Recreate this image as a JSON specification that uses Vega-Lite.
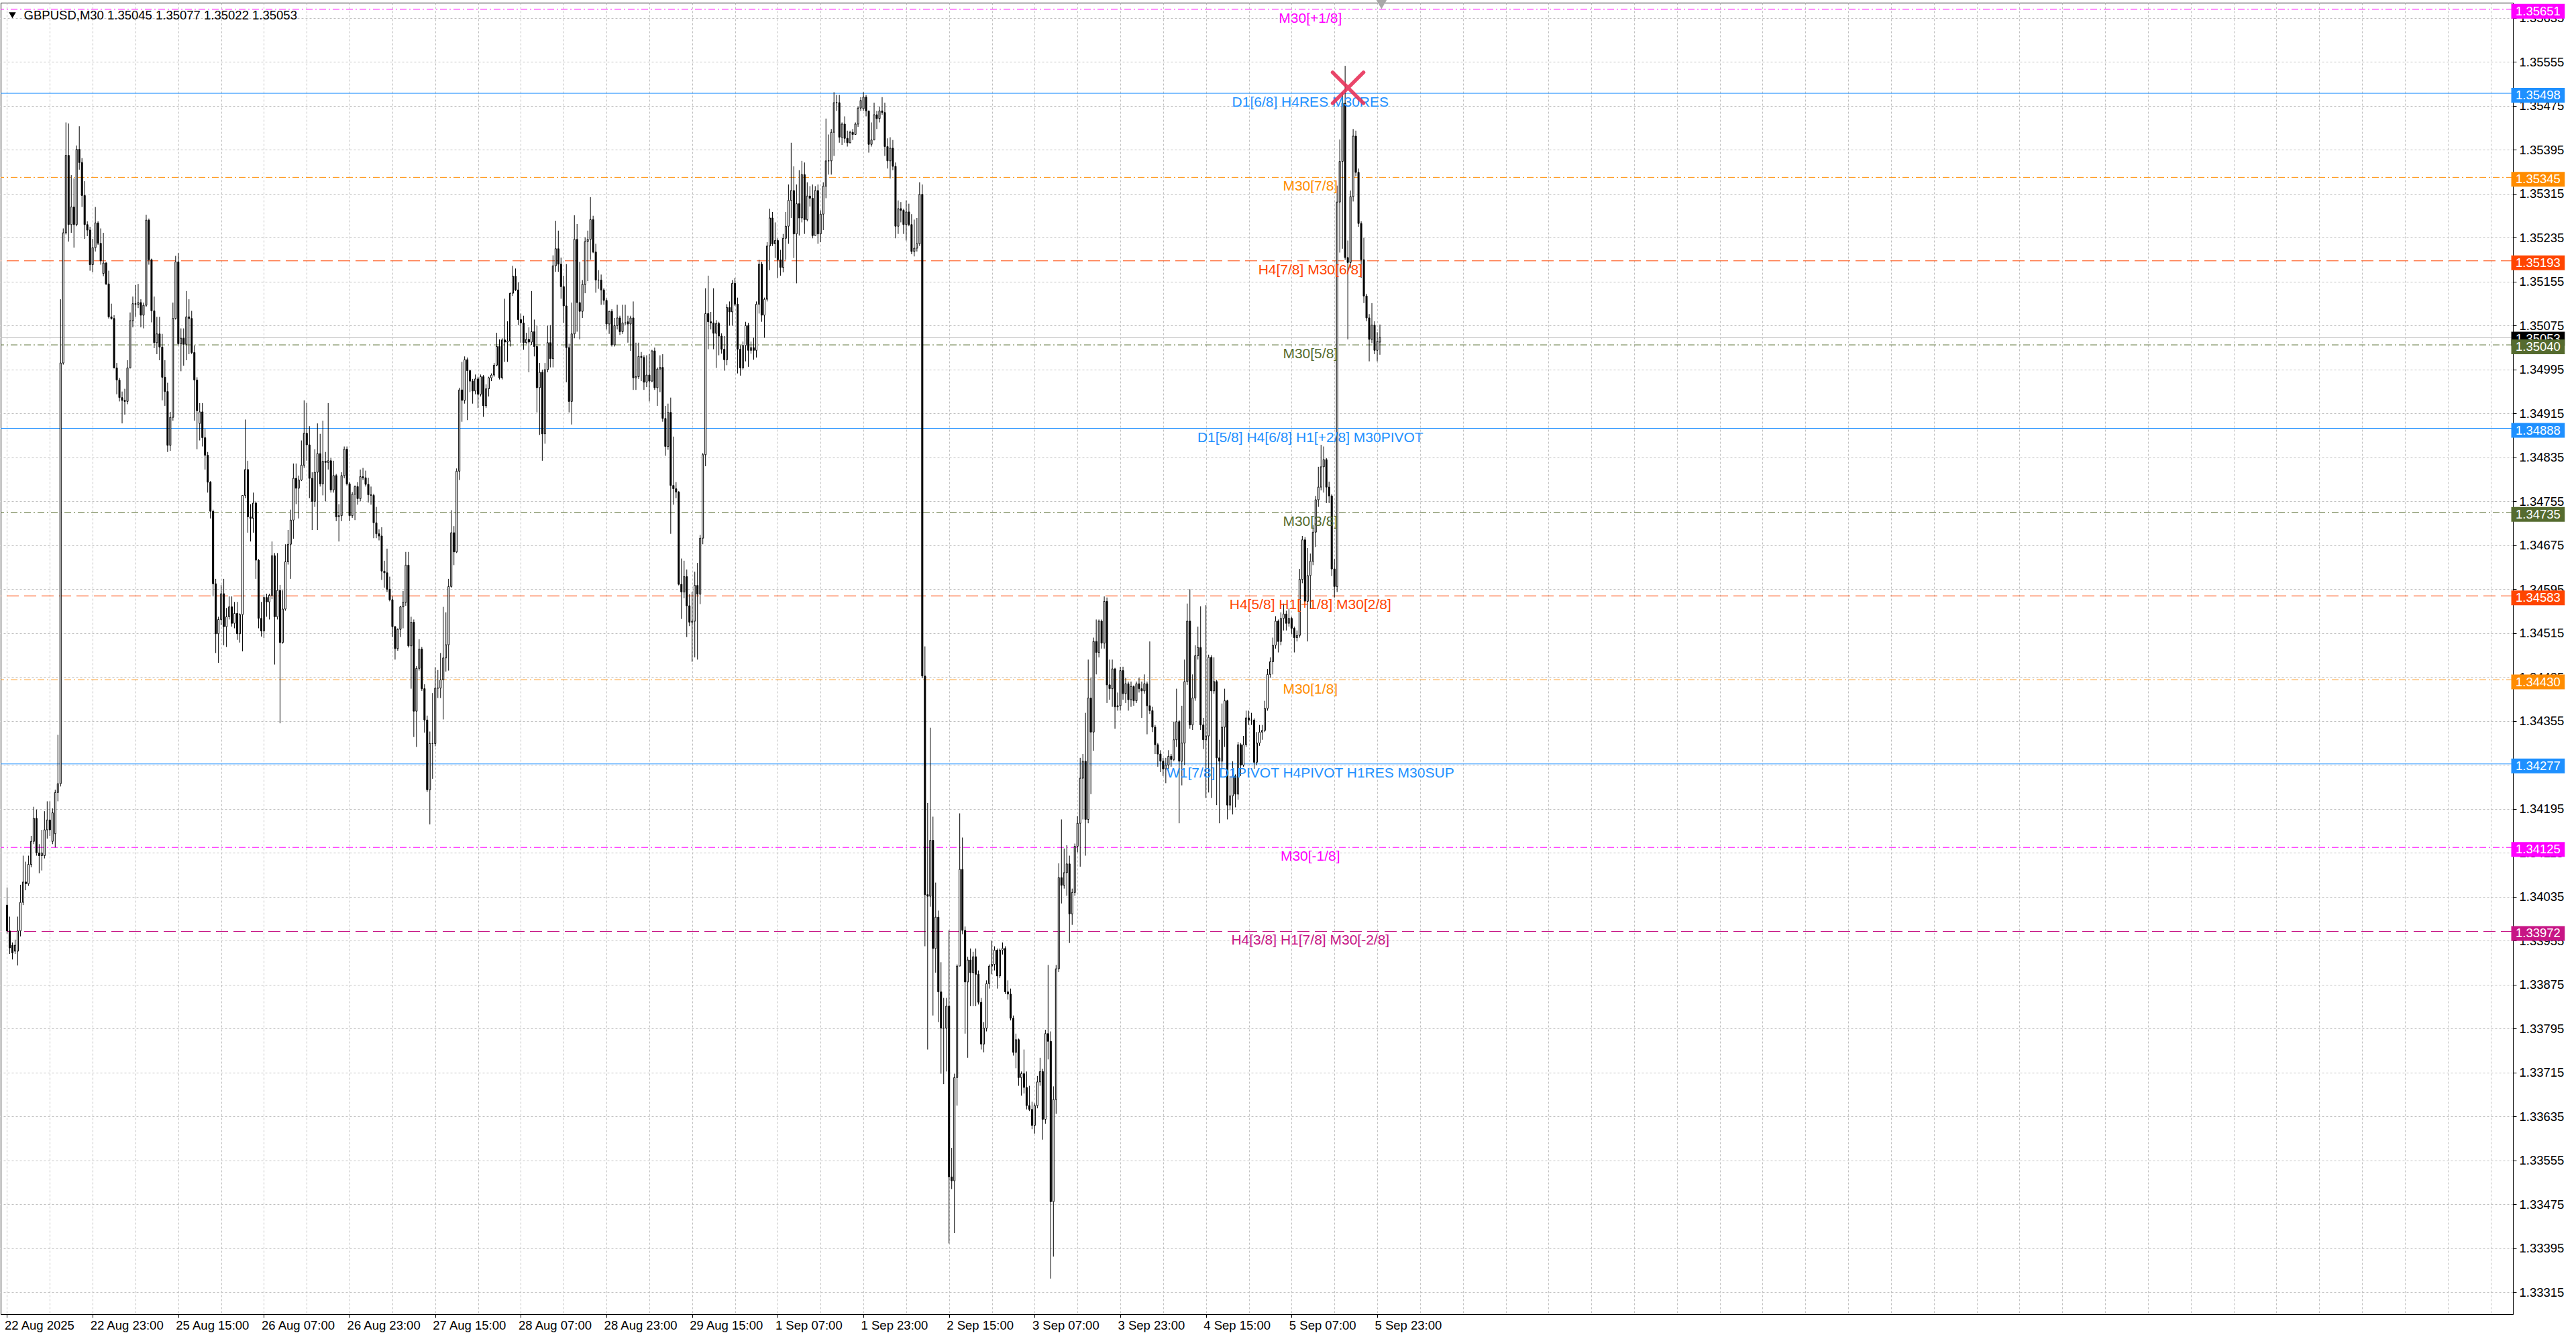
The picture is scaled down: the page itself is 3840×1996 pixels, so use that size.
{
"$schema":"https://vega.github.io/schema/vega-lite/v6.json",
"width":3745,"height":1955,
"autosize":{"type":"none"},
"padding":{"left":1,"top":4,"right":94,"bottom":37},
"background":"white",
"config":{"view":{"stroke":"black","strokeWidth":1},"font":"Liberation Sans"},
"datasets":{
"levels":[
{"p":1.35651,"name":"M30[+1/8]","k":"mag"},
{"p":1.35498,"name":"D1[6/8] H4RES M30RES","k":"blue"},
{"p":1.35345,"name":"M30[7/8]","k":"orange"},
{"p":1.35193,"name":"H4[7/8] M30[6/8]","k":"red"},
{"p":1.35040,"name":"M30[5/8]","k":"olive"},
{"p":1.34888,"name":"D1[5/8] H4[6/8] H1[+2/8] M30PIVOT","k":"blue"},
{"p":1.34735,"name":"M30[3/8]","k":"olive"},
{"p":1.34583,"name":"H4[5/8] H1[+1/8] M30[2/8]","k":"red"},
{"p":1.34430,"name":"M30[1/8]","k":"orange"},
{"p":1.34277,"name":"W1[7/8] D1PIVOT H4PIVOT H1RES M30SUP","k":"blue"},
{"p":1.34125,"name":"M30[-1/8]","k":"mag"},
{"p":1.33972,"name":"H4[3/8] H1[7/8] M30[-2/8]","k":"violet"}
],
"bid":[{"p":1.35053}],
"header":[{"t":"GBPUSD,M30  1.35045 1.35077 1.35022 1.35053"}],
"bars":[
{"i":0,"o":1.34020,"h":1.34052,"l":1.33968,"c":1.33973},
{"i":1,"o":1.33973,"h":1.33999,"l":1.33931,"c":1.33942},
{"i":2,"o":1.33947,"h":1.33952,"l":1.33921,"c":1.33933},
{"i":3,"o":1.33936,"h":1.33957,"l":1.33931,"c":1.33947},
{"i":4,"o":1.33936,"h":1.33999,"l":1.33910,"c":1.33973},
{"i":5,"o":1.33973,"h":1.34057,"l":1.33963,"c":1.34025},
{"i":6,"o":1.34025,"h":1.34110,"l":1.34020,"c":1.34062},
{"i":7,"o":1.34062,"h":1.34099,"l":1.34047,"c":1.34059},
{"i":8,"o":1.34059,"h":1.34110,"l":1.34055,"c":1.34094},
{"i":9,"o":1.34094,"h":1.34146,"l":1.34089,"c":1.34136},
{"i":10,"o":1.34136,"h":1.34199,"l":1.34131,"c":1.34178},
{"i":11,"o":1.34178,"h":1.34194,"l":1.34110,"c":1.34115},
{"i":12,"o":1.34115,"h":1.34131,"l":1.34078,"c":1.34110},
{"i":13,"o":1.34110,"h":1.34157,"l":1.34083,"c":1.34115},
{"i":14,"o":1.34110,"h":1.34191,"l":1.34105,"c":1.34157},
{"i":15,"o":1.34157,"h":1.34209,"l":1.34141,"c":1.34175},
{"i":16,"o":1.34175,"h":1.34209,"l":1.34146,"c":1.34157},
{"i":17,"o":1.34136,"h":1.34196,"l":1.34131,"c":1.34188},
{"i":18,"o":1.34150,"h":1.34230,"l":1.34125,"c":1.34225},
{"i":19,"o":1.34225,"h":1.34330,"l":1.34209,"c":1.34241},
{"i":20,"o":1.34241,"h":1.35123,"l":1.34236,"c":1.35007},
{"i":21,"o":1.35007,"h":1.35252,"l":1.35004,"c":1.35244},
{"i":22,"o":1.35244,"h":1.35445,"l":1.35241,"c":1.35385},
{"i":23,"o":1.35385,"h":1.35443,"l":1.35228,"c":1.35259},
{"i":24,"o":1.35259,"h":1.35349,"l":1.35244,"c":1.35291},
{"i":25,"o":1.35291,"h":1.35343,"l":1.35217,"c":1.35259},
{"i":26,"o":1.35259,"h":1.35403,"l":1.35256,"c":1.35396},
{"i":27,"o":1.35396,"h":1.35438,"l":1.35359,"c":1.35372},
{"i":28,"o":1.35372,"h":1.35380,"l":1.35291,"c":1.35312},
{"i":29,"o":1.35312,"h":1.35338,"l":1.35233,"c":1.35259},
{"i":30,"o":1.35259,"h":1.35265,"l":1.35238,"c":1.35249},
{"i":31,"o":1.35249,"h":1.35255,"l":1.35175,"c":1.35186},
{"i":32,"o":1.35186,"h":1.35233,"l":1.35172,"c":1.35217},
{"i":33,"o":1.35217,"h":1.35291,"l":1.35210,"c":1.35262},
{"i":34,"o":1.35262,"h":1.35265,"l":1.35222,"c":1.35225},
{"i":35,"o":1.35225,"h":1.35252,"l":1.35186,"c":1.35193},
{"i":36,"o":1.35170,"h":1.35244,"l":1.35165,"c":1.35189},
{"i":37,"o":1.35189,"h":1.35191,"l":1.35149,"c":1.35151},
{"i":38,"o":1.35151,"h":1.35175,"l":1.35088,"c":1.35091},
{"i":39,"o":1.35091,"h":1.35115,"l":1.35086,"c":1.35088},
{"i":40,"o":1.35088,"h":1.35094,"l":1.34997,"c":1.34998},
{"i":41,"o":1.34998,"h":1.35007,"l":1.34950,"c":1.34976},
{"i":42,"o":1.34976,"h":1.34980,"l":1.34937,"c":1.34944},
{"i":43,"o":1.34944,"h":1.34955,"l":1.34897,"c":1.34939},
{"i":44,"o":1.34939,"h":1.34960,"l":1.34913,"c":1.34937},
{"i":45,"o":1.34937,"h":1.35012,"l":1.34932,"c":1.34998},
{"i":46,"o":1.34998,"h":1.35099,"l":1.34997,"c":1.35084},
{"i":47,"o":1.35084,"h":1.35128,"l":1.35072,"c":1.35115},
{"i":48,"o":1.35115,"h":1.35149,"l":1.35091,"c":1.35114},
{"i":49,"o":1.35114,"h":1.35151,"l":1.35107,"c":1.35117},
{"i":50,"o":1.35117,"h":1.35123,"l":1.35072,"c":1.35094},
{"i":51,"o":1.35094,"h":1.35117,"l":1.35070,"c":1.35112},
{"i":52,"o":1.35112,"h":1.35277,"l":1.35109,"c":1.35267},
{"i":53,"o":1.35267,"h":1.35270,"l":1.35186,"c":1.35195},
{"i":54,"o":1.35195,"h":1.35197,"l":1.35081,"c":1.35102},
{"i":55,"o":1.35102,"h":1.35128,"l":1.35034,"c":1.35044},
{"i":56,"o":1.35044,"h":1.35091,"l":1.35023,"c":1.35060},
{"i":57,"o":1.35060,"h":1.35091,"l":1.35012,"c":1.35036},
{"i":58,"o":1.35036,"h":1.35060,"l":1.34939,"c":1.34981},
{"i":59,"o":1.34981,"h":1.35012,"l":1.34929,"c":1.34955},
{"i":60,"o":1.34955,"h":1.34971,"l":1.34845,"c":1.34857},
{"i":61,"o":1.34857,"h":1.34918,"l":1.34847,"c":1.34908},
{"i":62,"o":1.34908,"h":1.35117,"l":1.34902,"c":1.35088},
{"i":63,"o":1.35088,"h":1.35202,"l":1.35086,"c":1.35191},
{"i":64,"o":1.35191,"h":1.35207,"l":1.35039,"c":1.35042},
{"i":65,"o":1.35042,"h":1.35070,"l":1.34992,"c":1.35052},
{"i":66,"o":1.35052,"h":1.35070,"l":1.35002,"c":1.35041},
{"i":67,"o":1.35041,"h":1.35138,"l":1.35012,"c":1.35091},
{"i":68,"o":1.35091,"h":1.35123,"l":1.35023,"c":1.35088},
{"i":69,"o":1.35088,"h":1.35102,"l":1.35023,"c":1.35026},
{"i":70,"o":1.35026,"h":1.35039,"l":1.34902,"c":1.34976},
{"i":71,"o":1.34976,"h":1.34981,"l":1.34850,"c":1.34920},
{"i":72,"o":1.34897,"h":1.34934,"l":1.34866,"c":1.34918},
{"i":73,"o":1.34918,"h":1.34934,"l":1.34855,"c":1.34871},
{"i":74,"o":1.34871,"h":1.34887,"l":1.34813,"c":1.34839},
{"i":75,"o":1.34839,"h":1.34845,"l":1.34771,"c":1.34790},
{"i":76,"o":1.34790,"h":1.34792,"l":1.34724,"c":1.34737},
{"i":77,"o":1.34737,"h":1.34740,"l":1.34582,"c":1.34605},
{"i":78,"o":1.34605,"h":1.34614,"l":1.34479,"c":1.34514},
{"i":79,"o":1.34514,"h":1.34545,"l":1.34461,"c":1.34540},
{"i":80,"o":1.34540,"h":1.34603,"l":1.34530,"c":1.34587},
{"i":81,"o":1.34587,"h":1.34614,"l":1.34493,"c":1.34527},
{"i":82,"o":1.34527,"h":1.34561,"l":1.34490,"c":1.34545},
{"i":83,"o":1.34545,"h":1.34582,"l":1.34540,"c":1.34563},
{"i":84,"o":1.34563,"h":1.34582,"l":1.34527,"c":1.34533},
{"i":85,"o":1.34533,"h":1.34572,"l":1.34524,"c":1.34551},
{"i":86,"o":1.34551,"h":1.34572,"l":1.34503,"c":1.34514},
{"i":87,"o":1.34514,"h":1.34551,"l":1.34498,"c":1.34549},
{"i":88,"o":1.34549,"h":1.34766,"l":1.34482,"c":1.34766},
{"i":89,"o":1.34766,"h":1.34904,"l":1.34761,"c":1.34813},
{"i":90,"o":1.34813,"h":1.34829,"l":1.34698,"c":1.34727},
{"i":91,"o":1.34727,"h":1.34750,"l":1.34682,"c":1.34724},
{"i":92,"o":1.34724,"h":1.34771,"l":1.34698,"c":1.34752},
{"i":93,"o":1.34752,"h":1.34755,"l":1.34614,"c":1.34648},
{"i":94,"o":1.34648,"h":1.34650,"l":1.34524,"c":1.34542},
{"i":95,"o":1.34542,"h":1.34572,"l":1.34509,"c":1.34519},
{"i":96,"o":1.34519,"h":1.34585,"l":1.34506,"c":1.34580},
{"i":97,"o":1.34580,"h":1.34587,"l":1.34545,"c":1.34572},
{"i":98,"o":1.34572,"h":1.34587,"l":1.34540,"c":1.34584},
{"i":99,"o":1.34584,"h":1.34682,"l":1.34577,"c":1.34656},
{"i":100,"o":1.34656,"h":1.34661,"l":1.34458,"c":1.34545},
{"i":101,"o":1.34545,"h":1.34661,"l":1.34540,"c":1.34593},
{"i":102,"o":1.34593,"h":1.34603,"l":1.34351,"c":1.34498},
{"i":103,"o":1.34498,"h":1.34593,"l":1.34496,"c":1.34559},
{"i":104,"o":1.34559,"h":1.34677,"l":1.34556,"c":1.34645},
{"i":105,"o":1.34645,"h":1.34703,"l":1.34640,"c":1.34677},
{"i":106,"o":1.34677,"h":1.34740,"l":1.34614,"c":1.34721},
{"i":107,"o":1.34721,"h":1.34824,"l":1.34687,"c":1.34797},
{"i":108,"o":1.34797,"h":1.34824,"l":1.34750,"c":1.34779},
{"i":109,"o":1.34779,"h":1.34802,"l":1.34724,"c":1.34794},
{"i":110,"o":1.34794,"h":1.34866,"l":1.34792,"c":1.34821},
{"i":111,"o":1.34821,"h":1.34939,"l":1.34816,"c":1.34879},
{"i":112,"o":1.34879,"h":1.34934,"l":1.34829,"c":1.34858},
{"i":113,"o":1.34858,"h":1.34892,"l":1.34761,"c":1.34797},
{"i":114,"o":1.34797,"h":1.34808,"l":1.34703,"c":1.34755},
{"i":115,"o":1.34755,"h":1.34850,"l":1.34745,"c":1.34808},
{"i":116,"o":1.34808,"h":1.34897,"l":1.34703,"c":1.34842},
{"i":117,"o":1.34842,"h":1.34878,"l":1.34782,"c":1.34787},
{"i":118,"o":1.34787,"h":1.34902,"l":1.34766,"c":1.34828},
{"i":119,"o":1.34828,"h":1.34845,"l":1.34755,"c":1.34826},
{"i":120,"o":1.34826,"h":1.34934,"l":1.34813,"c":1.34829},
{"i":121,"o":1.34829,"h":1.34834,"l":1.34771,"c":1.34776},
{"i":122,"o":1.34776,"h":1.34829,"l":1.34771,"c":1.34802},
{"i":123,"o":1.34802,"h":1.34805,"l":1.34719,"c":1.34727},
{"i":124,"o":1.34727,"h":1.34750,"l":1.34682,"c":1.34729},
{"i":125,"o":1.34729,"h":1.34808,"l":1.34719,"c":1.34802},
{"i":126,"o":1.34802,"h":1.34855,"l":1.34797,"c":1.34850},
{"i":127,"o":1.34850,"h":1.34855,"l":1.34784,"c":1.34787},
{"i":128,"o":1.34787,"h":1.34790,"l":1.34719,"c":1.34729},
{"i":129,"o":1.34729,"h":1.34772,"l":1.34725,"c":1.34768},
{"i":130,"o":1.34768,"h":1.34784,"l":1.34721,"c":1.34782},
{"i":131,"o":1.34782,"h":1.34790,"l":1.34749,"c":1.34760},
{"i":132,"o":1.34760,"h":1.34813,"l":1.34755,"c":1.34800},
{"i":133,"o":1.34800,"h":1.34816,"l":1.34794,"c":1.34798},
{"i":134,"o":1.34798,"h":1.34811,"l":1.34782,"c":1.34786},
{"i":135,"o":1.34786,"h":1.34798,"l":1.34753,"c":1.34767},
{"i":136,"o":1.34767,"h":1.34782,"l":1.34749,"c":1.34766},
{"i":137,"o":1.34766,"h":1.34769,"l":1.34688,"c":1.34716},
{"i":138,"o":1.34716,"h":1.34745,"l":1.34688,"c":1.34696},
{"i":139,"o":1.34696,"h":1.34704,"l":1.34684,"c":1.34692},
{"i":140,"o":1.34692,"h":1.34708,"l":1.34612,"c":1.34628},
{"i":141,"o":1.34628,"h":1.34647,"l":1.34598,"c":1.34625},
{"i":142,"o":1.34625,"h":1.34669,"l":1.34590,"c":1.34595},
{"i":143,"o":1.34595,"h":1.34618,"l":1.34573,"c":1.34576},
{"i":144,"o":1.34576,"h":1.34582,"l":1.34508,"c":1.34527},
{"i":145,"o":1.34527,"h":1.34528,"l":1.34467,"c":1.34487},
{"i":146,"o":1.34487,"h":1.34524,"l":1.34483,"c":1.34522},
{"i":147,"o":1.34522,"h":1.34565,"l":1.34508,"c":1.34563},
{"i":148,"o":1.34563,"h":1.34592,"l":1.34524,"c":1.34571},
{"i":149,"o":1.34571,"h":1.34663,"l":1.34565,"c":1.34639},
{"i":150,"o":1.34639,"h":1.34663,"l":1.34489,"c":1.34492},
{"i":151,"o":1.34492,"h":1.34545,"l":1.34414,"c":1.34535},
{"i":152,"o":1.34535,"h":1.34540,"l":1.34326,"c":1.34373},
{"i":153,"o":1.34373,"h":1.34455,"l":1.34308,"c":1.34451},
{"i":154,"o":1.34451,"h":1.34504,"l":1.34447,"c":1.34486},
{"i":155,"o":1.34486,"h":1.34490,"l":1.34410,"c":1.34414},
{"i":156,"o":1.34414,"h":1.34422,"l":1.34334,"c":1.34357},
{"i":157,"o":1.34357,"h":1.34365,"l":1.34226,"c":1.34230},
{"i":158,"o":1.34230,"h":1.34336,"l":1.34167,"c":1.34314},
{"i":159,"o":1.34314,"h":1.34406,"l":1.34250,"c":1.34314},
{"i":160,"o":1.34314,"h":1.34453,"l":1.34309,"c":1.34415},
{"i":161,"o":1.34415,"h":1.34448,"l":1.34397,"c":1.34415},
{"i":162,"o":1.34415,"h":1.34479,"l":1.34397,"c":1.34430},
{"i":163,"o":1.34430,"h":1.34563,"l":1.34358,"c":1.34470},
{"i":164,"o":1.34470,"h":1.34553,"l":1.34445,"c":1.34494},
{"i":165,"o":1.34494,"h":1.34614,"l":1.34447,"c":1.34600},
{"i":166,"o":1.34600,"h":1.34739,"l":1.34598,"c":1.34698},
{"i":167,"o":1.34698,"h":1.34710,"l":1.34639,"c":1.34663},
{"i":168,"o":1.34663,"h":1.34815,"l":1.34661,"c":1.34810},
{"i":169,"o":1.34810,"h":1.34962,"l":1.34794,"c":1.34958},
{"i":170,"o":1.34958,"h":1.35009,"l":1.34900,"c":1.34939},
{"i":171,"o":1.34939,"h":1.35019,"l":1.34933,"c":1.35013},
{"i":172,"o":1.35013,"h":1.35017,"l":1.34903,"c":1.34993},
{"i":173,"o":1.34993,"h":1.34995,"l":1.34954,"c":1.34974},
{"i":174,"o":1.34974,"h":1.34978,"l":1.34933,"c":1.34956},
{"i":175,"o":1.34956,"h":1.34986,"l":1.34950,"c":1.34978},
{"i":176,"o":1.34978,"h":1.34982,"l":1.34925,"c":1.34950},
{"i":177,"o":1.34950,"h":1.34986,"l":1.34946,"c":1.34982},
{"i":178,"o":1.34982,"h":1.34985,"l":1.34909,"c":1.34929},
{"i":179,"o":1.34929,"h":1.34968,"l":1.34925,"c":1.34960},
{"i":180,"o":1.34960,"h":1.34982,"l":1.34946,"c":1.34980},
{"i":181,"o":1.34980,"h":1.34988,"l":1.34974,"c":1.34985},
{"i":182,"o":1.34985,"h":1.35007,"l":1.34982,"c":1.35003},
{"i":183,"o":1.35003,"h":1.35062,"l":1.35001,"c":1.35037},
{"i":184,"o":1.35037,"h":1.35050,"l":1.34977,"c":1.34980},
{"i":185,"o":1.34980,"h":1.35052,"l":1.34977,"c":1.35049},
{"i":186,"o":1.35049,"h":1.35124,"l":1.35009,"c":1.35045},
{"i":187,"o":1.35045,"h":1.35083,"l":1.35009,"c":1.35047},
{"i":188,"o":1.35047,"h":1.35135,"l":1.35037,"c":1.35134},
{"i":189,"o":1.35134,"h":1.35184,"l":1.35129,"c":1.35165},
{"i":190,"o":1.35165,"h":1.35179,"l":1.35138,"c":1.35140},
{"i":191,"o":1.35140,"h":1.35154,"l":1.35076,"c":1.35086},
{"i":192,"o":1.35086,"h":1.35097,"l":1.35044,"c":1.35080},
{"i":193,"o":1.35080,"h":1.35093,"l":1.35031,"c":1.35044},
{"i":194,"o":1.35044,"h":1.35062,"l":1.35042,"c":1.35050},
{"i":195,"o":1.35050,"h":1.35072,"l":1.34990,"c":1.35045},
{"i":196,"o":1.35045,"h":1.35138,"l":1.35040,"c":1.35064},
{"i":197,"o":1.35064,"h":1.35086,"l":1.35019,"c":1.35037},
{"i":198,"o":1.35037,"h":1.35075,"l":1.34917,"c":1.34962},
{"i":199,"o":1.34962,"h":1.35007,"l":1.34876,"c":1.34990},
{"i":200,"o":1.34990,"h":1.34995,"l":1.34829,"c":1.34878},
{"i":201,"o":1.34878,"h":1.35007,"l":1.34860,"c":1.34995},
{"i":202,"o":1.34995,"h":1.35075,"l":1.34990,"c":1.35044},
{"i":203,"o":1.35044,"h":1.35076,"l":1.34999,"c":1.35015},
{"i":204,"o":1.35015,"h":1.35203,"l":1.34999,"c":1.35184},
{"i":205,"o":1.35184,"h":1.35266,"l":1.35173,"c":1.35215},
{"i":206,"o":1.35215,"h":1.35248,"l":1.35173,"c":1.35187},
{"i":207,"o":1.35187,"h":1.35199,"l":1.35124,"c":1.35146},
{"i":208,"o":1.35146,"h":1.35166,"l":1.35080,"c":1.35111},
{"i":209,"o":1.35111,"h":1.35187,"l":1.34972,"c":1.35035},
{"i":210,"o":1.35035,"h":1.35042,"l":1.34917,"c":1.34937},
{"i":211,"o":1.34937,"h":1.35117,"l":1.34895,"c":1.35060},
{"i":212,"o":1.35060,"h":1.35276,"l":1.35052,"c":1.35232},
{"i":213,"o":1.35232,"h":1.35260,"l":1.35064,"c":1.35117},
{"i":214,"o":1.35117,"h":1.35191,"l":1.35050,"c":1.35101},
{"i":215,"o":1.35101,"h":1.35158,"l":1.35089,"c":1.35150},
{"i":216,"o":1.35150,"h":1.35236,"l":1.35134,"c":1.35228},
{"i":217,"o":1.35228,"h":1.35248,"l":1.35156,"c":1.35232},
{"i":218,"o":1.35232,"h":1.35309,"l":1.35195,"c":1.35268},
{"i":219,"o":1.35268,"h":1.35275,"l":1.35207,"c":1.35209},
{"i":220,"o":1.35209,"h":1.35224,"l":1.35135,"c":1.35158},
{"i":221,"o":1.35158,"h":1.35176,"l":1.35142,"c":1.35158},
{"i":222,"o":1.35158,"h":1.35168,"l":1.35113,"c":1.35140},
{"i":223,"o":1.35140,"h":1.35143,"l":1.35113,"c":1.35121},
{"i":224,"o":1.35121,"h":1.35125,"l":1.35068,"c":1.35078},
{"i":225,"o":1.35078,"h":1.35102,"l":1.35060,"c":1.35101},
{"i":226,"o":1.35101,"h":1.35105,"l":1.35037,"c":1.35040},
{"i":227,"o":1.35040,"h":1.35089,"l":1.35037,"c":1.35075},
{"i":228,"o":1.35075,"h":1.35113,"l":1.35068,"c":1.35089},
{"i":229,"o":1.35089,"h":1.35093,"l":1.35058,"c":1.35064},
{"i":230,"o":1.35064,"h":1.35113,"l":1.35060,"c":1.35080},
{"i":231,"o":1.35080,"h":1.35113,"l":1.35076,"c":1.35080},
{"i":232,"o":1.35082,"h":1.35093,"l":1.35044,"c":1.35078},
{"i":233,"o":1.35078,"h":1.35093,"l":1.35029,"c":1.35089},
{"i":234,"o":1.35089,"h":1.35119,"l":1.34958,"c":1.34980},
{"i":235,"o":1.34980,"h":1.35044,"l":1.34958,"c":1.34982},
{"i":236,"o":1.34982,"h":1.35044,"l":1.34978,"c":1.35019},
{"i":237,"o":1.35019,"h":1.35027,"l":1.34974,"c":1.35017},
{"i":238,"o":1.35017,"h":1.35021,"l":1.34958,"c":1.34972},
{"i":239,"o":1.34972,"h":1.35021,"l":1.34963,"c":1.34985},
{"i":240,"o":1.34985,"h":1.35023,"l":1.34937,"c":1.34974},
{"i":241,"o":1.34974,"h":1.35031,"l":1.34972,"c":1.35029},
{"i":242,"o":1.35029,"h":1.35035,"l":1.34958,"c":1.34962},
{"i":243,"o":1.34962,"h":1.34999,"l":1.34929,"c":1.34996},
{"i":244,"o":1.34996,"h":1.35021,"l":1.34954,"c":1.34999},
{"i":245,"o":1.34999,"h":1.35023,"l":1.34900,"c":1.34906},
{"i":246,"o":1.34906,"h":1.34929,"l":1.34838,"c":1.34855},
{"i":247,"o":1.34855,"h":1.34933,"l":1.34849,"c":1.34917},
{"i":248,"o":1.34917,"h":1.34944,"l":1.34696,"c":1.34784},
{"i":249,"o":1.34784,"h":1.34873,"l":1.34749,"c":1.34778},
{"i":250,"o":1.34778,"h":1.34790,"l":1.34761,"c":1.34772},
{"i":251,"o":1.34772,"h":1.34774,"l":1.34602,"c":1.34604},
{"i":252,"o":1.34604,"h":1.34651,"l":1.34541,"c":1.34590},
{"i":253,"o":1.34590,"h":1.34647,"l":1.34579,"c":1.34618},
{"i":254,"o":1.34618,"h":1.34631,"l":1.34508,"c":1.34565},
{"i":255,"o":1.34565,"h":1.34586,"l":1.34528,"c":1.34535},
{"i":256,"o":1.34535,"h":1.34590,"l":1.34463,"c":1.34537},
{"i":257,"o":1.34537,"h":1.34627,"l":1.34471,"c":1.34602},
{"i":258,"o":1.34602,"h":1.34643,"l":1.34467,"c":1.34586},
{"i":259,"o":1.34586,"h":1.34694,"l":1.34568,"c":1.34688},
{"i":260,"o":1.34688,"h":1.34843,"l":1.34677,"c":1.34840},
{"i":261,"o":1.34840,"h":1.35143,"l":1.34819,"c":1.35097},
{"i":262,"o":1.35097,"h":1.35166,"l":1.35032,"c":1.35082},
{"i":263,"o":1.35082,"h":1.35100,"l":1.35068,"c":1.35080},
{"i":264,"o":1.35080,"h":1.35143,"l":1.35032,"c":1.35061},
{"i":265,"o":1.35061,"h":1.35085,"l":1.34998,"c":1.35079},
{"i":266,"o":1.35079,"h":1.35082,"l":1.35021,"c":1.35056},
{"i":267,"o":1.35056,"h":1.35061,"l":1.35024,"c":1.35032},
{"i":268,"o":1.35032,"h":1.35056,"l":1.34993,"c":1.35013},
{"i":269,"o":1.35013,"h":1.35114,"l":1.35003,"c":1.35108},
{"i":270,"o":1.35108,"h":1.35119,"l":1.35075,"c":1.35100},
{"i":271,"o":1.35100,"h":1.35158,"l":1.35075,"c":1.35152},
{"i":272,"o":1.35152,"h":1.35162,"l":1.35111,"c":1.35114},
{"i":273,"o":1.35114,"h":1.35126,"l":1.34988,"c":1.35032},
{"i":274,"o":1.35032,"h":1.35039,"l":1.34984,"c":1.34998},
{"i":275,"o":1.34998,"h":1.35046,"l":1.34995,"c":1.35039},
{"i":276,"o":1.35039,"h":1.35082,"l":1.35010,"c":1.35075},
{"i":277,"o":1.35075,"h":1.35080,"l":1.35000,"c":1.35030},
{"i":278,"o":1.35030,"h":1.35046,"l":1.35024,"c":1.35035},
{"i":279,"o":1.35035,"h":1.35053,"l":1.35013,"c":1.35030},
{"i":280,"o":1.35030,"h":1.35119,"l":1.35017,"c":1.35114},
{"i":281,"o":1.35114,"h":1.35195,"l":1.35097,"c":1.35187},
{"i":282,"o":1.35187,"h":1.35191,"l":1.35082,"c":1.35094},
{"i":283,"o":1.35094,"h":1.35126,"l":1.35053,"c":1.35123},
{"i":284,"o":1.35123,"h":1.35227,"l":1.35119,"c":1.35220},
{"i":285,"o":1.35220,"h":1.35288,"l":1.35176,"c":1.35271},
{"i":286,"o":1.35271,"h":1.35282,"l":1.35220,"c":1.35224},
{"i":287,"o":1.35224,"h":1.35263,"l":1.35198,"c":1.35230},
{"i":288,"o":1.35230,"h":1.35234,"l":1.35162,"c":1.35195},
{"i":289,"o":1.35195,"h":1.35213,"l":1.35166,"c":1.35181},
{"i":290,"o":1.35181,"h":1.35242,"l":1.35172,"c":1.35234},
{"i":291,"o":1.35234,"h":1.35282,"l":1.35195,"c":1.35256},
{"i":292,"o":1.35256,"h":1.35332,"l":1.35224,"c":1.35303},
{"i":293,"o":1.35303,"h":1.35408,"l":1.35271,"c":1.35321},
{"i":294,"o":1.35321,"h":1.35365,"l":1.35198,"c":1.35242},
{"i":295,"o":1.35242,"h":1.35332,"l":1.35152,"c":1.35297},
{"i":296,"o":1.35297,"h":1.35358,"l":1.35239,"c":1.35271},
{"i":297,"o":1.35271,"h":1.35375,"l":1.35263,"c":1.35350},
{"i":298,"o":1.35350,"h":1.35372,"l":1.35242,"c":1.35268},
{"i":299,"o":1.35268,"h":1.35336,"l":1.35265,"c":1.35311},
{"i":300,"o":1.35311,"h":1.35329,"l":1.35292,"c":1.35307},
{"i":301,"o":1.35307,"h":1.35332,"l":1.35234,"c":1.35239},
{"i":302,"o":1.35239,"h":1.35329,"l":1.35239,"c":1.35321},
{"i":303,"o":1.35321,"h":1.35332,"l":1.35224,"c":1.35242},
{"i":304,"o":1.35242,"h":1.35285,"l":1.35227,"c":1.35278},
{"i":305,"o":1.35278,"h":1.35336,"l":1.35249,"c":1.35329},
{"i":306,"o":1.35329,"h":1.35452,"l":1.35307,"c":1.35375},
{"i":307,"o":1.35375,"h":1.35423,"l":1.35350,"c":1.35375},
{"i":308,"o":1.35375,"h":1.35433,"l":1.35350,"c":1.35427},
{"i":309,"o":1.35427,"h":1.35500,"l":1.35384,"c":1.35481},
{"i":310,"o":1.35481,"h":1.35495,"l":1.35466,"c":1.35481},
{"i":311,"o":1.35481,"h":1.35495,"l":1.35408,"c":1.35418},
{"i":312,"o":1.35418,"h":1.35445,"l":1.35404,"c":1.35442},
{"i":313,"o":1.35442,"h":1.35456,"l":1.35408,"c":1.35416},
{"i":314,"o":1.35416,"h":1.35430,"l":1.35401,"c":1.35408},
{"i":315,"o":1.35408,"h":1.35430,"l":1.35407,"c":1.35427},
{"i":316,"o":1.35427,"h":1.35433,"l":1.35413,"c":1.35423},
{"i":317,"o":1.35423,"h":1.35445,"l":1.35423,"c":1.35442},
{"i":318,"o":1.35442,"h":1.35474,"l":1.35437,"c":1.35471},
{"i":319,"o":1.35471,"h":1.35491,"l":1.35466,"c":1.35485},
{"i":320,"o":1.35470,"h":1.35500,"l":1.35466,"c":1.35491},
{"i":321,"o":1.35491,"h":1.35495,"l":1.35456,"c":1.35466},
{"i":322,"o":1.35466,"h":1.35466,"l":1.35390,"c":1.35405},
{"i":323,"o":1.35405,"h":1.35445,"l":1.35401,"c":1.35413},
{"i":324,"o":1.35413,"h":1.35481,"l":1.35413,"c":1.35459},
{"i":325,"o":1.35459,"h":1.35466,"l":1.35433,"c":1.35452},
{"i":326,"o":1.35452,"h":1.35474,"l":1.35445,"c":1.35466},
{"i":327,"o":1.35466,"h":1.35491,"l":1.35459,"c":1.35463},
{"i":328,"o":1.35463,"h":1.35481,"l":1.35384,"c":1.35401},
{"i":329,"o":1.35401,"h":1.35416,"l":1.35361,"c":1.35375},
{"i":330,"o":1.35375,"h":1.35418,"l":1.35343,"c":1.35398},
{"i":331,"o":1.35398,"h":1.35413,"l":1.35358,"c":1.35365},
{"i":332,"o":1.35365,"h":1.35372,"l":1.35234,"c":1.35256},
{"i":333,"o":1.35256,"h":1.35303,"l":1.35242,"c":1.35288},
{"i":334,"o":1.35288,"h":1.35300,"l":1.35263,"c":1.35285},
{"i":335,"o":1.35285,"h":1.35288,"l":1.35242,"c":1.35259},
{"i":336,"o":1.35259,"h":1.35303,"l":1.35230,"c":1.35282},
{"i":337,"o":1.35282,"h":1.35297,"l":1.35256,"c":1.35259},
{"i":338,"o":1.35259,"h":1.35278,"l":1.35205,"c":1.35210},
{"i":339,"o":1.35210,"h":1.35268,"l":1.35201,"c":1.35216},
{"i":340,"o":1.35216,"h":1.35271,"l":1.35210,"c":1.35224},
{"i":341,"o":1.35224,"h":1.35336,"l":1.35220,"c":1.35314},
{"i":342,"o":1.35314,"h":1.35332,"l":1.34433,"c":1.34437},
{"i":343,"o":1.34437,"h":1.34491,"l":1.33945,"c":1.34039},
{"i":344,"o":1.34039,"h":1.34206,"l":1.33757,"c":1.34036},
{"i":345,"o":1.34036,"h":1.34343,"l":1.34017,"c":1.34138},
{"i":346,"o":1.34138,"h":1.34181,"l":1.33819,"c":1.33941},
{"i":347,"o":1.33941,"h":1.34061,"l":1.33897,"c":1.33998},
{"i":348,"o":1.33998,"h":1.34010,"l":1.33807,"c":1.33862},
{"i":349,"o":1.33862,"h":1.33916,"l":1.33713,"c":1.33796},
{"i":350,"o":1.33796,"h":1.33851,"l":1.33694,"c":1.33796},
{"i":351,"o":1.33796,"h":1.33851,"l":1.33717,"c":1.33836},
{"i":352,"o":1.33836,"h":1.33974,"l":1.33404,"c":1.33525},
{"i":353,"o":1.33525,"h":1.33578,"l":1.33503,"c":1.33518},
{"i":354,"o":1.33518,"h":1.33713,"l":1.33423,"c":1.33706},
{"i":355,"o":1.33706,"h":1.33912,"l":1.33655,"c":1.33909},
{"i":356,"o":1.33909,"h":1.34187,"l":1.33909,"c":1.34085},
{"i":357,"o":1.34085,"h":1.34143,"l":1.33967,"c":1.33974},
{"i":358,"o":1.33974,"h":1.33981,"l":1.33786,"c":1.33880},
{"i":359,"o":1.33880,"h":1.33926,"l":1.33742,"c":1.33920},
{"i":360,"o":1.33920,"h":1.33941,"l":1.33836,"c":1.33897},
{"i":361,"o":1.33897,"h":1.33935,"l":1.33836,"c":1.33926},
{"i":362,"o":1.33926,"h":1.33941,"l":1.33836,"c":1.33894},
{"i":363,"o":1.33894,"h":1.33901,"l":1.33839,"c":1.33843},
{"i":364,"o":1.33843,"h":1.33851,"l":1.33757,"c":1.33767},
{"i":365,"o":1.33767,"h":1.33807,"l":1.33752,"c":1.33796},
{"i":366,"o":1.33796,"h":1.33883,"l":1.33790,"c":1.33877},
{"i":367,"o":1.33877,"h":1.33912,"l":1.33868,"c":1.33909},
{"i":368,"o":1.33909,"h":1.33955,"l":1.33894,"c":1.33912},
{"i":369,"o":1.33912,"h":1.33945,"l":1.33901,"c":1.33938},
{"i":370,"o":1.33938,"h":1.33941,"l":1.33868,"c":1.33891},
{"i":371,"o":1.33891,"h":1.33941,"l":1.33887,"c":1.33938},
{"i":372,"o":1.33938,"h":1.33952,"l":1.33930,"c":1.33941},
{"i":373,"o":1.33941,"h":1.33945,"l":1.33858,"c":1.33862},
{"i":374,"o":1.33862,"h":1.33883,"l":1.33848,"c":1.33858},
{"i":375,"o":1.33858,"h":1.33868,"l":1.33810,"c":1.33814},
{"i":376,"o":1.33814,"h":1.33819,"l":1.33746,"c":1.33752},
{"i":377,"o":1.33752,"h":1.33786,"l":1.33723,"c":1.33775},
{"i":378,"o":1.33775,"h":1.33777,"l":1.33691,"c":1.33706},
{"i":379,"o":1.33706,"h":1.33717,"l":1.33673,"c":1.33713},
{"i":380,"o":1.33713,"h":1.33757,"l":1.33677,"c":1.33688},
{"i":381,"o":1.33688,"h":1.33717,"l":1.33648,"c":1.33655},
{"i":382,"o":1.33655,"h":1.33691,"l":1.33645,"c":1.33648},
{"i":383,"o":1.33648,"h":1.33662,"l":1.33612,"c":1.33619},
{"i":384,"o":1.33619,"h":1.33659,"l":1.33604,"c":1.33655},
{"i":385,"o":1.33655,"h":1.33709,"l":1.33650,"c":1.33698},
{"i":386,"o":1.33698,"h":1.33742,"l":1.33691,"c":1.33717},
{"i":387,"o":1.33717,"h":1.33722,"l":1.33593,"c":1.33630},
{"i":388,"o":1.33630,"h":1.33793,"l":1.33622,"c":1.33786},
{"i":389,"o":1.33786,"h":1.33911,"l":1.33739,"c":1.33772},
{"i":390,"o":1.33772,"h":1.33790,"l":1.33340,"c":1.33480},
{"i":391,"o":1.33480,"h":1.33690,"l":1.33380,"c":1.33666},
{"i":392,"o":1.33666,"h":1.33911,"l":1.33640,"c":1.33904},
{"i":393,"o":1.33904,"h":1.34096,"l":1.33898,"c":1.34070},
{"i":394,"o":1.34070,"h":1.34176,"l":1.34023,"c":1.34056},
{"i":395,"o":1.34056,"h":1.34123,"l":1.34050,"c":1.34079},
{"i":396,"o":1.34079,"h":1.34129,"l":1.34037,"c":1.34095},
{"i":397,"o":1.34095,"h":1.34110,"l":1.33951,"c":1.34004},
{"i":398,"o":1.34004,"h":1.34050,"l":1.33984,"c":1.34043},
{"i":399,"o":1.34043,"h":1.34132,"l":1.34037,"c":1.34127},
{"i":400,"o":1.34127,"h":1.34182,"l":1.34116,"c":1.34169},
{"i":401,"o":1.34169,"h":1.34288,"l":1.34090,"c":1.34251},
{"i":402,"o":1.34251,"h":1.34295,"l":1.34176,"c":1.34282},
{"i":403,"o":1.34282,"h":1.34370,"l":1.34110,"c":1.34176},
{"i":404,"o":1.34176,"h":1.34467,"l":1.34169,"c":1.34397},
{"i":405,"o":1.34397,"h":1.34434,"l":1.34222,"c":1.34335},
{"i":406,"o":1.34335,"h":1.34507,"l":1.34301,"c":1.34500},
{"i":407,"o":1.34500,"h":1.34540,"l":1.34440,"c":1.34480},
{"i":408,"o":1.34480,"h":1.34540,"l":1.34471,"c":1.34537},
{"i":409,"o":1.34537,"h":1.34540,"l":1.34487,"c":1.34497},
{"i":410,"o":1.34497,"h":1.34582,"l":1.34487,"c":1.34573},
{"i":411,"o":1.34573,"h":1.34580,"l":1.34388,"c":1.34421},
{"i":412,"o":1.34421,"h":1.34467,"l":1.34394,"c":1.34414},
{"i":413,"o":1.34414,"h":1.34467,"l":1.34381,"c":1.34450},
{"i":414,"o":1.34450,"h":1.34452,"l":1.34341,"c":1.34381},
{"i":415,"o":1.34381,"h":1.34407,"l":1.34374,"c":1.34383},
{"i":416,"o":1.34383,"h":1.34454,"l":1.34374,"c":1.34447},
{"i":417,"o":1.34447,"h":1.34454,"l":1.34394,"c":1.34405},
{"i":418,"o":1.34405,"h":1.34434,"l":1.34388,"c":1.34423},
{"i":419,"o":1.34423,"h":1.34427,"l":1.34374,"c":1.34394},
{"i":420,"o":1.34394,"h":1.34427,"l":1.34381,"c":1.34418},
{"i":421,"o":1.34418,"h":1.34420,"l":1.34383,"c":1.34392},
{"i":422,"o":1.34392,"h":1.34427,"l":1.34388,"c":1.34423},
{"i":423,"o":1.34423,"h":1.34434,"l":1.34407,"c":1.34414},
{"i":424,"o":1.34414,"h":1.34427,"l":1.34361,"c":1.34410},
{"i":425,"o":1.34410,"h":1.34440,"l":1.34405,"c":1.34423},
{"i":426,"o":1.34423,"h":1.34427,"l":1.34331,"c":1.34383},
{"i":427,"o":1.34383,"h":1.34500,"l":1.34368,"c":1.34374},
{"i":428,"o":1.34374,"h":1.34381,"l":1.34335,"c":1.34344},
{"i":429,"o":1.34344,"h":1.34348,"l":1.34295,"c":1.34312},
{"i":430,"o":1.34312,"h":1.34315,"l":1.34272,"c":1.34295},
{"i":431,"o":1.34295,"h":1.34302,"l":1.34262,"c":1.34282},
{"i":432,"o":1.34282,"h":1.34288,"l":1.34255,"c":1.34268},
{"i":433,"o":1.34268,"h":1.34288,"l":1.34242,"c":1.34275},
{"i":434,"o":1.34275,"h":1.34302,"l":1.34268,"c":1.34291},
{"i":435,"o":1.34291,"h":1.34295,"l":1.34272,"c":1.34285},
{"i":436,"o":1.34285,"h":1.34354,"l":1.34282,"c":1.34321},
{"i":437,"o":1.34321,"h":1.34414,"l":1.34308,"c":1.34354},
{"i":438,"o":1.34354,"h":1.34357,"l":1.34169,"c":1.34282},
{"i":439,"o":1.34282,"h":1.34383,"l":1.34238,"c":1.34315},
{"i":440,"o":1.34315,"h":1.34467,"l":1.34275,"c":1.34427},
{"i":441,"o":1.34427,"h":1.34569,"l":1.34421,"c":1.34537},
{"i":442,"o":1.34537,"h":1.34595,"l":1.34341,"c":1.34348},
{"i":443,"o":1.34348,"h":1.34440,"l":1.34339,"c":1.34397},
{"i":444,"o":1.34397,"h":1.34493,"l":1.34392,"c":1.34474},
{"i":445,"o":1.34474,"h":1.34527,"l":1.34467,"c":1.34489},
{"i":446,"o":1.34489,"h":1.34564,"l":1.34339,"c":1.34348},
{"i":447,"o":1.34348,"h":1.34361,"l":1.34304,"c":1.34321},
{"i":448,"o":1.34321,"h":1.34566,"l":1.34215,"c":1.34328},
{"i":449,"o":1.34328,"h":1.34476,"l":1.34225,"c":1.34471},
{"i":450,"o":1.34471,"h":1.34475,"l":1.34215,"c":1.34410},
{"i":451,"o":1.34410,"h":1.34471,"l":1.34405,"c":1.34427},
{"i":452,"o":1.34427,"h":1.34430,"l":1.34202,"c":1.34288},
{"i":453,"o":1.34288,"h":1.34321,"l":1.34169,"c":1.34282},
{"i":454,"o":1.34282,"h":1.34387,"l":1.34268,"c":1.34344},
{"i":455,"o":1.34344,"h":1.34414,"l":1.34308,"c":1.34392},
{"i":456,"o":1.34392,"h":1.34394,"l":1.34176,"c":1.34202},
{"i":457,"o":1.34202,"h":1.34255,"l":1.34193,"c":1.34219},
{"i":458,"o":1.34219,"h":1.34282,"l":1.34185,"c":1.34255},
{"i":459,"o":1.34255,"h":1.34258,"l":1.34198,"c":1.34222},
{"i":460,"o":1.34222,"h":1.34317,"l":1.34212,"c":1.34312},
{"i":461,"o":1.34312,"h":1.34315,"l":1.34255,"c":1.34275},
{"i":462,"o":1.34275,"h":1.34328,"l":1.34272,"c":1.34312},
{"i":463,"o":1.34312,"h":1.34374,"l":1.34308,"c":1.34361},
{"i":464,"o":1.34361,"h":1.34374,"l":1.34348,"c":1.34357},
{"i":465,"o":1.34357,"h":1.34370,"l":1.34348,"c":1.34357},
{"i":466,"o":1.34357,"h":1.34360,"l":1.34268,"c":1.34280},
{"i":467,"o":1.34280,"h":1.34335,"l":1.34275,"c":1.34315},
{"i":468,"o":1.34315,"h":1.34348,"l":1.34310,"c":1.34335},
{"i":469,"o":1.34335,"h":1.34348,"l":1.34321,"c":1.34338},
{"i":470,"o":1.34338,"h":1.34392,"l":1.34335,"c":1.34378},
{"i":471,"o":1.34378,"h":1.34450,"l":1.34374,"c":1.34440},
{"i":472,"o":1.34440,"h":1.34471,"l":1.34434,"c":1.34463},
{"i":473,"o":1.34463,"h":1.34507,"l":1.34440,"c":1.34493},
{"i":474,"o":1.34493,"h":1.34546,"l":1.34487,"c":1.34537},
{"i":475,"o":1.34537,"h":1.34540,"l":1.34480,"c":1.34500},
{"i":476,"o":1.34500,"h":1.34553,"l":1.34493,"c":1.34542},
{"i":477,"o":1.34542,"h":1.34569,"l":1.34520,"c":1.34550},
{"i":478,"o":1.34550,"h":1.34556,"l":1.34520,"c":1.34533},
{"i":479,"o":1.34533,"h":1.34560,"l":1.34527,"c":1.34542},
{"i":480,"o":1.34542,"h":1.34545,"l":1.34513,"c":1.34524},
{"i":481,"o":1.34524,"h":1.34527,"l":1.34480,"c":1.34507},
{"i":482,"o":1.34507,"h":1.34520,"l":1.34500,"c":1.34511},
{"i":483,"o":1.34511,"h":1.34632,"l":1.34507,"c":1.34613},
{"i":484,"o":1.34613,"h":1.34692,"l":1.34606,"c":1.34685},
{"i":485,"o":1.34685,"h":1.34690,"l":1.34566,"c":1.34573},
{"i":486,"o":1.34573,"h":1.34670,"l":1.34500,"c":1.34620},
{"i":487,"o":1.34620,"h":1.34660,"l":1.34560,"c":1.34646},
{"i":488,"o":1.34646,"h":1.34712,"l":1.34639,"c":1.34699},
{"i":489,"o":1.34699,"h":1.34765,"l":1.34672,"c":1.34758},
{"i":490,"o":1.34758,"h":1.34818,"l":1.34745,"c":1.34781},
{"i":491,"o":1.34781,"h":1.34858,"l":1.34775,"c":1.34818},
{"i":492,"o":1.34818,"h":1.34855,"l":1.34771,"c":1.34831},
{"i":493,"o":1.34831,"h":1.34834,"l":1.34752,"c":1.34781},
{"i":494,"o":1.34781,"h":1.34791,"l":1.34752,"c":1.34765},
{"i":495,"o":1.34765,"h":1.34768,"l":1.34619,"c":1.34632},
{"i":496,"o":1.34632,"h":1.34650,"l":1.34580,"c":1.34600},
{"i":497,"o":1.34600,"h":1.35330,"l":1.34590,"c":1.35300},
{"i":498,"o":1.35300,"h":1.35414,"l":1.35208,"c":1.35374},
{"i":499,"o":1.35374,"h":1.35500,"l":1.35215,"c":1.35480},
{"i":500,"o":1.35480,"h":1.35548,"l":1.35195,"c":1.35199},
{"i":501,"o":1.35199,"h":1.35230,"l":1.35050,"c":1.35190},
{"i":502,"o":1.35190,"h":1.35321,"l":1.35180,"c":1.35310},
{"i":503,"o":1.35310,"h":1.35433,"l":1.35301,"c":1.35420},
{"i":504,"o":1.35420,"h":1.35430,"l":1.35347,"c":1.35354},
{"i":505,"o":1.35354,"h":1.35361,"l":1.35255,"c":1.35261},
{"i":506,"o":1.35261,"h":1.35265,"l":1.35162,"c":1.35195},
{"i":507,"o":1.35195,"h":1.35235,"l":1.35116,"c":1.35129},
{"i":508,"o":1.35129,"h":1.35133,"l":1.35083,"c":1.35089},
{"i":509,"o":1.35089,"h":1.35096,"l":1.35010,"c":1.35050},
{"i":510,"o":1.35050,"h":1.35116,"l":1.35043,"c":1.35076},
{"i":511,"o":1.35076,"h":1.35083,"l":1.35023,"c":1.35030},
{"i":512,"o":1.35030,"h":1.35063,"l":1.35010,"c":1.35046},
{"i":513,"o":1.35045,"h":1.35077,"l":1.35022,"c":1.35053}
]
},
"layer":[
{
"data":{"name":"levels"},
"mark":{"type":"rule","strokeWidth":1},
"encoding":{
"y":{"field":"p","type":"quantitative","scale":{"domain":[1.332752,1.35663],"nice":false,"zero":false},
"axis":{"orient":"right","title":null,"values":[1.33315,1.33395,1.33475,1.33555,1.33635,1.33715,1.33795,1.33875,1.33955,1.34035,1.34115,1.34195,1.34275,1.34355,1.34435,1.34515,1.34595,1.34675,1.34755,1.34835,1.34915,1.34995,1.35075,1.35155,1.35235,1.35315,1.35395,1.35475,1.35555,1.35635],"format":".5f","grid":true,"gridColor":"#c0c0c0","gridDash":[3,3],"gridWidth":1,"domain":true,"domainColor":"black","ticks":true,"tickSize":5,"tickColor":"black","labelPadding":4,"labelFont":"Liberation Sans","labelFontSize":18.5,"labelColor":"black","labelAlign":"left","labelBaseline":"middle","labelOverlap":false,"labelBound":false,"labelFlush":false}},
"color":{"field":"k","type":"nominal","scale":{"domain":["mag","blue","orange","red","olive","violet"],"range":["#FF00FF","#1E90FF","#FF8C00","#FF4500","#556B2F","#C71585"]},"legend":null},
"strokeDash":{"field":"k","type":"nominal","scale":{"domain":["mag","blue","orange","red","olive","violet"],"range":[[10,4,2,4],[1,0],[10,4,2,4],[18,8],[10,4,2,4],[18,8]]},"legend":null}
}
},
{
"data":{"name":"bid"},
"mark":{"type":"rule","strokeWidth":1,"color":"#c0c0c0"},
"encoding":{"y":{"field":"p","type":"quantitative"}}
},
{
"data":{"name":"bars"},
"mark":{"type":"rule","color":"black","strokeWidth":1},
"encoding":{
"x":{"field":"i","type":"quantitative","scale":{"domain":[-1.125,935.125],"nice":false,"zero":false},
"axis":{"title":null,"values":[0,16,32,48,64,80,96,112,128,144,160,176,192,208,224,240,256,272,288,304,320,336,352,368,384,400,416,432,448,464,480,496,512,528,544,560,576,592,608,624,640,656,672,688,704,720,736,752,768,784,800,816,832,848,864,880,896,912,928],
"grid":true,"gridColor":"#c0c0c0","gridDash":[3,3],"gridWidth":1,"domain":true,"domainColor":"black","ticks":true,"tickSize":5,
"tickColor":{"condition":{"test":"datum.value % 32 === 0 && datum.value <= 512","value":"black"},"value":"transparent"},
"labelExpr":"(datum.value % 32 === 0 && datum.value <= 512) ? ['22 Aug 2025','22 Aug 23:00','25 Aug 15:00','26 Aug 07:00','26 Aug 23:00','27 Aug 15:00','28 Aug 07:00','28 Aug 23:00','29 Aug 15:00','1 Sep 07:00','1 Sep 23:00','2 Sep 15:00','3 Sep 07:00','3 Sep 23:00','4 Sep 15:00','5 Sep 07:00','5 Sep 23:00'][datum.value / 32] : ''",
"labelAlign":"left","labelBaseline":"top","labelPadding":2,"labelOffset":-4,"labelFont":"Liberation Sans","labelFontSize":18.5,"labelColor":"black","labelOverlap":false,"labelFlush":false,"labelBound":false}},
"y":{"field":"l","type":"quantitative"},
"y2":{"field":"h"}
}
},
{
"data":{"name":"bars"},
"mark":{"type":"bar","width":2,"stroke":"black","strokeWidth":1},
"encoding":{
"x":{"field":"i","type":"quantitative"},
"y":{"field":"o","type":"quantitative"},
"y2":{"field":"c"},
"fill":{"condition":{"test":"datum.c < datum.o","value":"black"},"value":"white"}
}
},
{
"data":{"name":"levels"},
"mark":{"type":"text","align":"center","baseline":"top","dy":3,"font":"Liberation Sans","fontSize":21},
"encoding":{
"x":{"datum":487},
"y":{"field":"p","type":"quantitative"},
"text":{"field":"name"},
"color":{"field":"k","type":"nominal","legend":null}
}
},
{
"data":{"values":[{"m":"x"}]},
"mark":{"type":"point","shape":"M-1,-1L1,1M1,-1L-1,1","filled":false,"size":2116,"stroke":"#E8335A","strokeWidth":5.5,"strokeCap":"round","opacity":0.9,"clip":false},
"encoding":{"x":{"datum":501.1},"y":{"datum":1.35508}}
},
{
"data":{"values":[{"m":"shift"}]},
"mark":{"type":"point","shape":"triangle-down","filled":true,"size":260,"color":"#a8a8a8","opacity":1,"clip":false},
"encoding":{"x":{"datum":513.6},"y":{"datum":1.35660}}
},
{
"data":{"name":"header"},
"mark":{"type":"point","shape":"triangle-down","filled":true,"size":110,"color":"black","opacity":1,"clip":false},
"encoding":{"x":{"datum":2},"y":{"datum":1.35640}}
},
{
"data":{"name":"header"},
"mark":{"type":"text","align":"left","baseline":"middle","font":"Liberation Sans","fontSize":18.5,"color":"black","clip":false},
"encoding":{"x":{"datum":6.3},"y":{"datum":1.35640},"text":{"field":"t"}}
},
{
"data":{"name":"bid"},
"mark":{"type":"rect","yOffset":-9,"y2Offset":12,"color":"black","clip":false},
"encoding":{"x":{"datum":935.75},"x2":{"datum":955.75},"y":{"field":"p","type":"quantitative"},"y2":{"field":"p"}}
},
{
"data":{"name":"bid"},
"mark":{"type":"text","align":"center","baseline":"middle","dy":1.5,"font":"Liberation Sans","fontSize":18.5,"color":"white","clip":false},
"encoding":{"x":{"datum":945.75},"y":{"field":"p","type":"quantitative"},"text":{"field":"p","format":".5f"}}
},
{
"data":{"name":"levels"},
"mark":{"type":"rect","yOffset":-8,"y2Offset":14,"clip":false},
"encoding":{"x":{"datum":935.75},"x2":{"datum":955.75},"y":{"field":"p","type":"quantitative"},"y2":{"field":"p"},
"color":{"field":"k","type":"nominal","legend":null}}
},
{
"data":{"name":"levels"},
"mark":{"type":"text","align":"center","baseline":"middle","dy":3,"font":"Liberation Sans","fontSize":18.5,"color":"white","clip":false},
"encoding":{"x":{"datum":945.75},"y":{"field":"p","type":"quantitative"},"text":{"field":"p","format":".5f"}}
}
]
}
